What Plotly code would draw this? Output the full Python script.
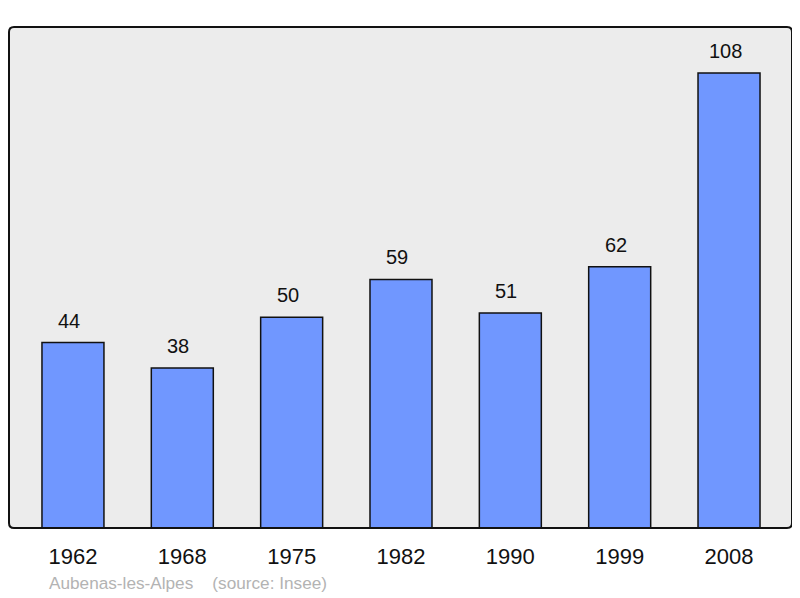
import plotly.graph_objects as go

years = ["1962", "1968", "1975", "1982", "1990", "1999", "2008"]
population = [44, 38, 50, 59, 51, 62, 108]
footer_text = "Aubenas-les-Alpes    (source: Insee)"

FONT = "Liberation Sans, Arial, sans-serif"

fig = go.Figure()
fig.add_trace(go.Bar(
    x=list(range(len(years))), y=population,
    width=0.567,
    marker=dict(color="#7097ff", line=dict(color="#111111", width=1.5)),
    hoverinfo="skip",
))

for i, v in enumerate(population):
    fig.add_annotation(x=i, y=v, text=str(v), showarrow=False, yanchor="bottom",
                       yshift=9, xshift=-4,
                       font=dict(size=20, color="#111111", family=FONT))

# rounded border around plot area
rx, ry = 5 / 783, 5 / 501
path = (f"M {rx},0 L {1-rx},0 Q 1,0 1,{ry} L 1,{1-ry} Q 1,1 {1-rx},1 "
        f"L {rx},1 Q 0,1 0,{1-ry} L 0,{ry} Q 0,0 {rx},0 Z")
fig.add_shape(type="path", path=path, xref="paper", yref="paper",
              line=dict(color="#111111", width=2), layer="above")

fig.add_annotation(xref="paper", yref="paper", text=footer_text, showarrow=False,
                   x=(47 - 9) / 783, y=-(583 - 528) / 501,
                   xanchor="left", yanchor="middle",
                   font=dict(size=17.2, color="#b3b3b3", family=FONT))

# page body has an 8px default margin; figure sized to fill the remaining 792x590
fig.update_layout(
    width=792, height=590,
    margin=dict(l=1, r=8, t=19, b=70),
    paper_bgcolor="white", plot_bgcolor="#ececec",
    showlegend=False,
    font=dict(family=FONT, color="#111111"),
    xaxis=dict(range=[-0.585, 6.576], tickmode="array",
               tickvals=list(range(len(years))), ticktext=years,
               tickfont=dict(size=22, color="#111111"),
               ticks="outside", ticklen=9, tickcolor="rgba(0,0,0,0)",
               showgrid=False, zeroline=False, showline=False, fixedrange=True),
    yaxis=dict(range=[0, 118.9], showticklabels=False, showgrid=False,
               zeroline=False, showline=False, ticks="", fixedrange=True),
)

fig.write_html("out.html")
